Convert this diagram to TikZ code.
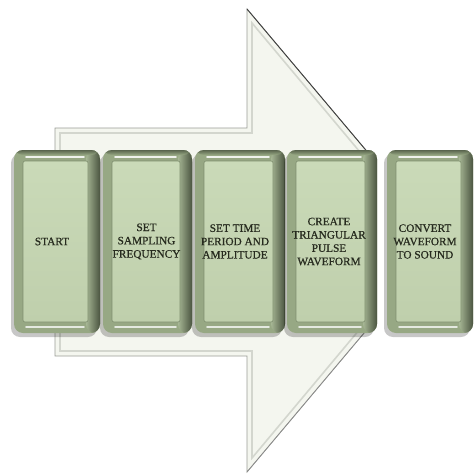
\documentclass[tikz,border=0pt]{standalone}
\usepackage{fontspec}
\setmainfont{Liberation Serif}
\newfontfamily\boxfont{Liberation Serif}[FakeBold=0.7]
\usetikzlibrary{calc,shadows}
\definecolor{arrowfill}{HTML}{F4F6EF}
\definecolor{arrowline}{HTML}{9A9C96}
\definecolor{arrowinner}{HTML}{D3D6CE}
\definecolor{bevelL}{HTML}{97A884}
\definecolor{bevelM}{HTML}{A6B694}
\definecolor{bevelR}{HTML}{4A5440}
\definecolor{faceT}{HTML}{CADAB8}
\definecolor{faceB}{HTML}{BFCFAC}
\definecolor{faceedge}{HTML}{7E8E6E}
\definecolor{txt}{HTML}{262A1E}
\tikzset{
  stepbox/.style={minimum width=#1, minimum height=183pt, inner sep=0pt,
    rounded corners=9pt, fill=bevelL,
    drop shadow={shadow xshift=-3pt, shadow yshift=-4pt, opacity=.22, fill=black},
    path picture={
      \coordinate (nw) at (path picture bounding box.north west);
      \coordinate (ne) at (path picture bounding box.north east);
      \coordinate (sw) at (path picture bounding box.south west);
      \coordinate (se) at (path picture bounding box.south east);
      \shade[left color=bevelM, right color=bevelR] ($(ne)+(-14,0)$) rectangle (se);
      \shade[top color=bevelR!80!bevelL, bottom color=bevelL] (nw) rectangle ($(ne)+(0,5)$);
      \draw[white, line width=1.6pt, opacity=.85, line cap=round] ($(nw)+(12,7)$) -- ($(ne)+(-16,7)$);
      \draw[white, line width=1.6pt, opacity=.75, line cap=round] ($(sw)+(12,-6)$) -- ($(se)+(-16,-6)$);
      \shade[top color=faceT, bottom color=faceB, draw=faceedge, line width=.6pt, rounded corners=2pt]
        ($(nw)+(9,11)$) rectangle ($(se)+(-12,-11)$);
    }},
  stepbox/.default=88pt,
  steptext/.style={align=center, text=txt, inner sep=0pt,
    font=\boxfont\fontsize{11.3}{13.3}\selectfont}
}
\begin{document}
\begin{tikzpicture}[x=1pt,y=-1pt]
\useasboundingbox (0,0) rectangle (474,474);
% big arrow (its tip lies hidden behind the last boxes)
\begin{scope}
\clip (0,0) rectangle (375,474);
\path[fill=arrowfill, draw=arrowline, line width=.8pt]
  (55,128) -- (247,128) -- (247,9) -- (442,240.5) -- (247,472) -- (247,356) -- (55,356) -- cycle;
\draw[black!75, line width=.9pt] (247,9) -- (442,240.5);
\draw[black!45, line width=.7pt] (442,240.5) -- (247,472);
\draw[arrowinner, line width=1.6pt]
  (60,133) -- (252,133) -- (252,23) -- (434,240.5) -- (252,458) -- (252,351) -- (60,351) -- cycle;
\end{scope}
% boxes
\node[stepbox=86pt] (b1) at (57,241.5) {};
\node[stepbox=89pt] (b2) at (147.5,241.5) {};
\node[stepbox=90pt] (b3) at (240,241.5) {};
\node[stepbox=90pt] (b4) at (332,241.5) {};
\node[stepbox=86pt] (b5) at (430,241.5) {};
% texts
\node[steptext] (t1) at ([xshift=-5pt]b1.center) {START};
\node[steptext] (t2) at ([xshift=-1pt]b2.center) {SET\\SAMPLING\\FREQUENCY};
\node[steptext] (t3) at ([xshift=-5pt]b3.center) {SET TIME\\PERIOD AND\\AMPLITUDE};
\node[steptext] (t4) at ([xshift=-3pt]b4.center) {CREATE\\TRIANGULAR\\PULSE\\WAVEFORM};
\node[steptext] (t5) at ([xshift=-5pt]b5.center) {CONVERT\\WAVEFORM\\TO SOUND};
\end{tikzpicture}
\end{document}
